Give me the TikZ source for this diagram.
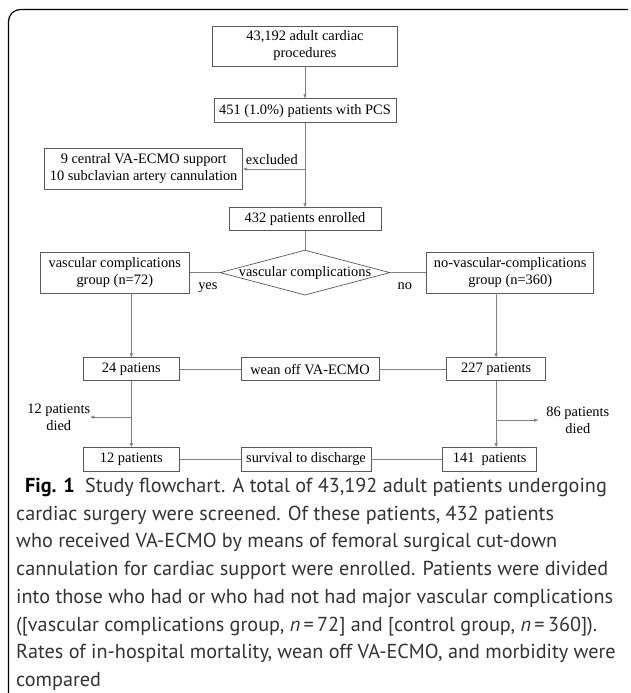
\documentclass[tikz,border=0pt]{standalone}
\usepackage{fontspec}
\setmainfont{Liberation Serif}
\newfontfamily\capfont{PT Sans}
\usepackage{tikz}
\usetikzlibrary{positioning,shapes.geometric,arrows.meta}

\begin{document}
\begin{tikzpicture}[x=1pt, y=-1pt, >={Triangle[length=4pt,width=3pt]},
  box/.style={rectangle, draw=black!65, line width=0.7pt, minimum height=23pt, inner xsep=5pt, inner ysep=2pt, align=center, font=\fontsize{14.4}{17}\selectfont},
  conn/.style={draw=black!50, line width=0.7pt},
  lbl/.style={inner sep=0pt, align=center, font=\fontsize{14.4}{17}\selectfont}]
  \useasboundingbox (0,0) rectangle (630,693);
  \draw[line width=1.2pt, rounded corners=12pt] (628,9.5) -- (8.5,9.5) -- (8.5,694);

  \node[box, minimum width=185pt, minimum height=40pt] (procs) at (305,46) {43,192 adult cardiac\\procedures};
  \node[box, minimum width=182pt, minimum height=24pt] (pcs) [below=32pt of procs] {451 (1.0\%) patients with PCS};
  \coordinate[below=46pt of pcs.south] (bx);
  \node[box, minimum width=198pt, minimum height=41pt] (excl) [left=62pt of bx] {9 central VA-ECMO support\\10 subclavian artery cannulation};
  \node[lbl] (exl) [above left=4pt and 7pt of bx] {excluded};
  \node[box, minimum width=152pt] (enr) [below=84pt of pcs] {432 patients enrolled};

  \node[diamond, draw=black!65, line width=0.7pt, aspect=3.78, minimum width=170pt, minimum height=45pt, inner sep=0pt, font=\fontsize{14.4}{17}\selectfont] (vc) [below=19pt of enr] {\makebox[100pt]{vascular complications}};
  \node[box, minimum width=149pt, minimum height=41pt] (vcg) [left=30pt of vc] {vascular complications\\group (n=72)};
  \node[box, minimum width=167pt, minimum height=41pt] (nvcg) [right=36pt of vc] {no-vascular-complications\\group (n=360)};
  \node[lbl] (yes) [below left=10pt and 2pt of vc.west] {yes};
  \node[lbl] (no) [below right=10pt and 7pt of vc.east] {no};

  \node[box, minimum width=96pt] (w24) [below=64pt of vcg, xshift=16.5pt] {24 patiens};
  \node[box, minimum width=138pt] (wean) [right=61pt of w24] {wean off VA-ECMO};
  \node[box, minimum width=99pt] (w227) [right=67pt of wean] {227 patients};

  \node[box, minimum width=96pt, minimum height=24pt] (s12) [below=66pt of w24] {12 patients};
  \node[box, minimum width=130pt, minimum height=24pt] (surv) [right=61pt of s12] {survival to discharge};
  \node[box, minimum width=94pt, minimum height=24pt] (s141) [right=71pt of surv] {141\ \ patients};

  \coordinate[below=36pt of w24.south] (b12);
  \coordinate[below=39pt of w227.south] (b86);
  \node[lbl] (d12) [left=41pt of b12] {12 patients\\died};
  \node[lbl, inner xsep=8pt] (d86) [right=42pt of b86] {86 patients\\died};

  \draw[conn,->] (procs) -- (pcs);
  \draw[conn,->] (pcs) -- (enr);
  \draw[conn,->] (bx) -- (excl);
  \draw[conn] (enr) -- (vc);
  \draw[conn] (vc) -- (vcg);
  \draw[conn] (vc) -- (nvcg);
  \draw[conn,->] (vcg.south -| w24.north) -- (w24.north);
  \draw[conn,->] (nvcg.south -| w227.north) -- (w227.north);
  \draw[conn] (w24) -- (wean);
  \draw[conn] (wean) -- (w227);
  \draw[conn,->] (w24) -- (s12);
  \draw[conn,->] (w227.south) -- (w227.south |- s141.north);
  \draw[conn] (s12) -- (surv);
  \draw[conn] (surv) -- (s141);
  \draw[conn,->] (b12) -- (d12);
  \draw[conn,->] (b86) -- (d86);

  \node[anchor=north west, inner sep=0pt, align=left, text=black!80, font=\capfont\fontsize{20.2}{27.7}\selectfont] (cap) at (16,478)
    {\hspace*{9pt}\textcolor{black}{\textbf{Fig. 1}}\hspace{0.5em}Study flowchart. A total of 43,192 adult patients undergoing\\
     cardiac surgery were screened. Of these patients, 432 patients\\
     who received VA-ECMO by means of femoral surgical cut-down\\
     cannulation for cardiac support were enrolled. Patients were divided\\
     into those who had or who had not had major vascular complications\\
     ([vascular complications group, \textit{n}\,=\,72] and [control group, \textit{n}\,=\,360]).\\
     Rates of in-hospital mortality, wean off VA-ECMO, and morbidity were\\
     compared};
\end{tikzpicture}
\end{document}
